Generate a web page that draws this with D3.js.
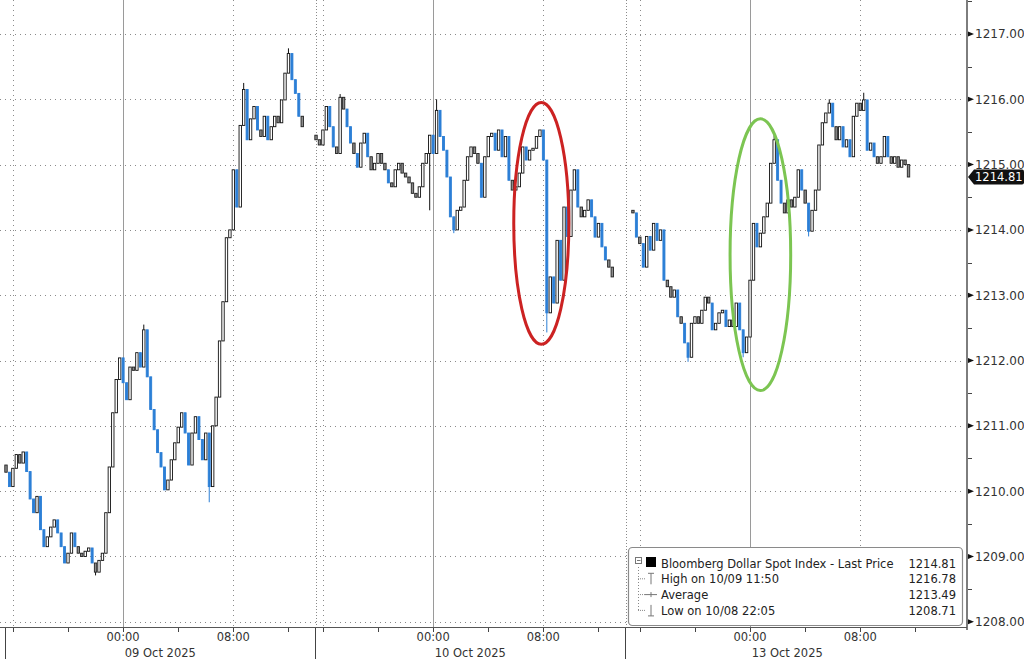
<!DOCTYPE html>
<html><head><meta charset="utf-8">
<script src="https://cdn.jsdelivr.net/npm/d3@7"></script>
<style>html,body{margin:0;padding:0;background:#fff;overflow:hidden} svg{display:block}</style>
</head><body>
<svg id="chart" width="1024" height="659"></svg>
<script>
// ---------------- DATA ----------------
const sessionDates = ["09 Oct 2025", "10 Oct 2025", "13 Oct 2025"];
// trading-hour position (continuous trading time, hours) of each session's first 15-min bar
const sessionStartHours = [0, 22.5, 45.5];
const sessionOpens = [1210.40, 1215.45, 1214.30];
const barHours = 0.25;
const closesS1 = [1210.29,1210.07,1210.35,1210.56,1210.43,1210.60,1210.30,1209.88,1209.67,1209.92,
 1209.41,1209.15,1209.30,1209.45,1209.56,1209.36,1209.15,1208.90,1209.05,1209.36,
 1209.15,1209.05,1209.00,1209.08,1209.13,1208.90,1208.76,1208.94,1209.05,1209.67,
 1210.37,1211.20,1211.71,1212.04,1211.66,1211.40,1211.90,1211.85,1212.12,1211.90,
 1212.47,1211.75,1211.25,1210.94,1210.59,1210.37,1210.02,1210.17,1210.48,1210.74,
 1210.98,1211.20,1210.89,1210.40,1210.89,1211.14,1210.79,1210.48,1210.89,1210.07,
 1211.00,1211.44,1212.30,1212.90,1213.88,1214.00,1214.92,1214.35,1215.60,1216.15,
 1215.38,1215.70,1215.89,1215.53,1215.43,1215.74,1215.38,1215.58,1215.74,1215.64,
 1215.99,1216.40,1216.70,1216.30,1216.09,1215.74,1215.58];
const closesS2 = [1215.38,1215.30,1215.53,1215.89,1215.58,1215.27,1215.17,1216.03,1215.85,1215.58,
 1215.33,1215.17,1214.96,1215.33,1215.48,1215.12,1214.92,1215.02,1215.17,1215.02,
 1214.92,1214.72,1214.66,1214.92,1215.02,1214.87,1214.81,1214.72,1214.56,1214.50,
 1214.66,1215.02,1215.17,1215.45,1215.17,1215.83,1215.43,1215.22,1214.81,1214.20,
 1214.00,1214.30,1214.35,1214.76,1215.12,1215.27,1215.17,1215.02,1214.50,1215.12,
 1215.43,1215.48,1215.22,1215.53,1215.12,1215.43,1214.76,1214.61,1214.66,1214.87,
 1215.27,1215.07,1215.22,1215.25,1215.43,1215.53,1215.07,1212.73,1213.28,1212.88,
 1213.84,1213.23,1214.35,1213.90,1214.61,1214.92,1214.35,1214.20,1214.30,1214.46,
 1214.20,1213.89,1214.10,1213.74,1213.54,1213.43,1213.28];
const closesS3 = [1214.26,1213.89,1213.79,1213.43,1213.90,1213.69,1214.10,1213.84,1214.00,1213.23,
 1213.13,1212.97,1213.08,1212.67,1212.57,1212.27,1212.05,1212.57,1212.67,1212.57,
 1212.77,1212.97,1212.88,1212.47,1212.57,1212.73,1212.77,1212.52,1212.62,1212.52,
 1212.88,1212.47,1212.12,1212.36,1213.23,1214.10,1213.74,1213.95,1214.20,1214.41,
 1215.02,1215.38,1214.76,1214.41,1214.26,1214.46,1214.35,1214.50,1214.92,1214.61,
 1214.41,1213.98,1214.30,1214.61,1215.30,1215.64,1215.79,1215.94,1215.58,1215.38,
 1215.58,1215.27,1215.38,1215.12,1215.74,1215.94,1215.83,1215.99,1215.22,1215.33,
 1215.12,1215.02,1215.12,1215.43,1215.12,1215.02,1215.12,1214.96,1215.07,1215.00,
 1214.81];
// notable wicks: [session, bar index, price]
const wickHighs = [[0,82,1216.78],[0,40,1212.55],[0,69,1216.25],[1,35,1216.00],[1,7,1216.08],[2,67,1216.10],[2,41,1215.45],[2,57,1216.0]];
const wickLows = [[0,26,1208.71],[0,59,1209.83],[1,67,1212.43],[1,33,1214.30],[1,40,1213.95],[2,16,1211.98],[2,32,1212.05],[2,51,1213.90]];

const yTicks = [1208,1209,1210,1211,1212,1213,1214,1215,1216,1217];
const yMinorTicks = [1208.5,1209.5,1210.5,1211.5,1212.5,1213.5,1214.5,1215.5,1216.5,1217.5];
const sessionBreakHours = [0, 22.5, 45];
const midnightHours = [8.5, 31, 54];
const morningHours = [16.5, 39, 62];
const afternoonHours = [0.5, 23, 46];
const minorTickHours = [0.5,4.5,8.5,12.5,16.5,20.5, 23,27,31,35,39,43, 46,50,54,58,62,66];
const legendLabels = ["Bloomberg Dollar Spot Index - Last Price", "High on 10/09 11:50", "Average", "Low on 10/08 22:05"];
const legendValues = ["1214.81", "1216.78", "1213.49", "1208.71"];
const lastPrice = 1214.81;
// highlight ellipses: centre hour, centre price, half-width (hours), half-height (price)
const ellipses = [
  {t: 38.85, p: 1214.10, dt: 2.0, dp: 1.85, color: "#cc2222"},
  {t: 54.75, p: 1213.62, dt: 2.2, dp: 2.08, color: "#7cc552"}
];

// ---------------- CHART ----------------
const svg = d3.select("#chart");
const FONT = "DejaVu Sans, sans-serif";
const x = d3.scaleLinear().domain([0, 69.6]).range([6, 965]);
const y = d3.scaleLinear().domain([1207.92, 1217.52]).range([627, 0]);

// build candles
const sessions = [closesS1, closesS2, closesS3];
const candles = [];
sessions.forEach((cl, s) => {
  cl.forEach((c, i) => {
    const o = i === 0 ? sessionOpens[s] : cl[i - 1];
    let hi = Math.max(o, c), lo = Math.min(o, c);
    wickHighs.forEach(w => { if (w[0] === s && w[1] === i) hi = Math.max(hi, w[2]); });
    wickLows.forEach(w => { if (w[0] === s && w[1] === i) lo = Math.min(lo, w[2]); });
    candles.push({t: sessionStartHours[s] + i * barHours, o, c, hi, lo});
  });
});
const kind = d => d.c >= d.o ? "up" : (d.o - d.c >= 0.2 ? "blue" : "gray");

const grid = svg.append("g");
grid.selectAll("line.h").data(yTicks).join("line")
  .attr("x1", 0).attr("x2", 965)
  .attr("y1", d => Math.round(y(d)) + 0.5).attr("y2", d => Math.round(y(d)) + 0.5)
  .attr("stroke", "#8a8a8a").attr("stroke-dasharray", "1,4");
grid.selectAll("line.v").data(afternoonHours.concat(morningHours)).join("line")
  .attr("x1", d => Math.round(x(d)) + 0.5).attr("x2", d => Math.round(x(d)) + 0.5)
  .attr("y1", 0).attr("y2", 627)
  .attr("stroke", "#8a8a8a").attr("stroke-dasharray", "1,4");
grid.selectAll("line.b").data(sessionBreakHours.slice(1)).join("line")
  .attr("x1", d => Math.round(x(d)) + 0.5).attr("x2", d => Math.round(x(d)) + 0.5)
  .attr("y1", 0).attr("y2", 627)
  .attr("stroke", "#8a8a8a").attr("stroke-dasharray", "1,2");
grid.selectAll("line.m").data(midnightHours).join("line")
  .attr("x1", d => Math.round(x(d)) + 0.5).attr("x2", d => Math.round(x(d)) + 0.5)
  .attr("y1", 0).attr("y2", 627)
  .attr("stroke", "#9a9a9a").attr("stroke-width", 1);

// candles
const cg = svg.append("g");
cg.selectAll("line.w").data(candles).join("line")
  .attr("x1", d => x(d.t)).attr("x2", d => x(d.t))
  .attr("y1", d => y(d.hi)).attr("y2", d => y(d.lo))
  .attr("stroke", d => kind(d) === "blue" ? "#2c7fd6" : "#111")
  .attr("stroke-width", 1);
cg.selectAll("rect").data(candles).join("rect")
  .attr("x", d => x(d.t) - (kind(d) === "blue" ? 1 : 1.2))
  .attr("width", d => kind(d) === "blue" ? 2 : 2.4)
  .attr("y", d => y(Math.max(d.o, d.c)))
  .attr("height", d => Math.max(1, y(Math.min(d.o, d.c)) - y(Math.max(d.o, d.c))))
  .attr("fill", d => ({up: "#fff", blue: "#2c7fd6", gray: "#8c8c8c"})[kind(d)])
  .attr("stroke", d => ({up: "#111", blue: "#2c7fd6", gray: "#222"})[kind(d)])
  .attr("stroke-width", 0.9);

// ellipses
svg.append("g").selectAll("ellipse").data(ellipses).join("ellipse")
  .attr("cx", d => x(d.t)).attr("cy", d => y(d.p))
  .attr("rx", d => x(d.t + d.dt) - x(d.t))
  .attr("ry", d => y(d.p - d.dp) - y(d.p))
  .attr("fill", "none").attr("stroke", d => d.color).attr("stroke-width", 3);

// right axis
const ra = svg.append("g");
ra.append("line").attr("x1", 967).attr("x2", 967).attr("y1", 0).attr("y2", 630)
  .attr("stroke", "#7d7d7d").attr("stroke-width", 2);
ra.selectAll("path.tri").data(yTicks).join("path")
  .attr("d", d => `M968,${y(d) - 2.5}L974,${y(d)}L968,${y(d) + 2.5}Z`)
  .attr("fill", "#111");
ra.selectAll("line.mn").data(yMinorTicks).join("line")
  .attr("x1", 968).attr("x2", 972).attr("y1", d => Math.round(y(d)) + 0.5).attr("y2", d => Math.round(y(d)) + 0.5)
  .attr("stroke", "#444");
ra.selectAll("text").data(yTicks).join("text")
  .attr("x", 975).attr("y", d => y(d) + 4.5)
  .attr("font-family", FONT).attr("font-size", 12).attr("fill", "#333")
  .text(d => d3.format(".2f")(d));
const ly = y(lastPrice);
ra.append("path")
  .attr("d", `M968,${ly}L974,${ly - 7.5}L1022,${ly - 7.5}Q1024,${ly - 7.5} 1024,${ly - 5.5}L1024,${ly + 5.5}Q1024,${ly + 7.5} 1022,${ly + 7.5}L974,${ly + 7.5}Z`)
  .attr("fill", "#111");
ra.append("text").attr("x", 975).attr("y", ly + 4.5)
  .attr("font-family", FONT).attr("font-size", 11.5).attr("fill", "#fff")
  .text(d3.format(".2f")(lastPrice));

// bottom axis
const ba = svg.append("g");
ba.append("line").attr("x1", 0).attr("x2", 967).attr("y1", 627.5).attr("y2", 627.5).attr("stroke", "#555");
ba.selectAll("line.t").data(minorTickHours).join("line")
  .attr("x1", d => Math.round(x(d)) + 0.5).attr("x2", d => Math.round(x(d)) + 0.5)
  .attr("y1", 628).attr("y2", 632).attr("stroke", "#444");
ba.selectAll("line.sb").data(sessionBreakHours).join("line")
  .attr("x1", d => Math.round(x(d)) - 0.5).attr("x2", d => Math.round(x(d)) - 0.5)
  .attr("y1", 628).attr("y2", 659).attr("stroke", "#444");
ba.selectAll("text.h0").data(midnightHours).join("text")
  .attr("x", d => x(d)).attr("y", 641).attr("text-anchor", "middle")
  .attr("font-family", FONT).attr("font-size", 11.5).attr("fill", "#333")
  .text("00:00");
ba.selectAll("text.h8").data(morningHours).join("text")
  .attr("x", d => x(d)).attr("y", 641).attr("text-anchor", "middle")
  .attr("font-family", FONT).attr("font-size", 11.5).attr("fill", "#333")
  .text("08:00");
ba.selectAll("text.dt").data(midnightHours).join("text")
  .attr("x", d => x(d + 2.7)).attr("y", 657).attr("text-anchor", "middle")
  .attr("font-family", FONT).attr("font-size", 11.5).attr("fill", "#333")
  .text((d, i) => sessionDates[i]);

// legend
const lg = svg.append("g");
lg.append("rect").attr("x", 628.5).attr("y", 547.5).attr("width", 334).attr("height", 78).attr("rx", 4)
  .attr("fill", "#fff").attr("stroke", "#8a8a8a").attr("stroke-width", 1.2);
const rowY = i => 567.5 + i * 15.8;
lg.append("line").attr("x1", 638.5).attr("x2", 638.5).attr("y1", 567).attr("y2", rowY(3) - 4)
  .attr("stroke", "#888").attr("stroke-dasharray", "1,2");
lg.selectAll("line.st").data([1, 2, 3]).join("line")
  .attr("x1", 638).attr("x2", 645).attr("y1", d => rowY(d) - 4.5).attr("y2", d => rowY(d) - 4.5)
  .attr("stroke", "#888").attr("stroke-dasharray", "1,1");
lg.append("rect").attr("x", 635.5).attr("y", 557.5).attr("width", 6).attr("height", 6).attr("fill", "#fff").attr("stroke", "#777");
lg.append("line").attr("x1", 637).attr("x2", 640.5).attr("y1", 560.5).attr("y2", 560.5).attr("stroke", "#777");
lg.append("rect").attr("x", 646).attr("y", 557).attr("width", 10).attr("height", 10).attr("fill", "#000");
lg.append("path").attr("d", `M648,${rowY(1) - 10}L654,${rowY(1) - 10}M651,${rowY(1) - 10}L651,${rowY(1) + 1}`)
  .attr("stroke", "#777").attr("fill", "none");
lg.append("path").attr("d", `M645,${rowY(2) - 4.5}L657,${rowY(2) - 4.5}M651,${rowY(2) - 7}L651,${rowY(2) - 2}`)
  .attr("stroke", "#777").attr("fill", "none");
lg.append("path").attr("d", `M651,${rowY(3) - 10}L651,${rowY(3) + 1}M648,${rowY(3) + 1}L654,${rowY(3) + 1}`)
  .attr("stroke", "#777").attr("fill", "none");
lg.selectAll("text.l").data(legendLabels).join("text")
  .attr("x", 661).attr("y", (d, i) => rowY(i))
  .attr("font-family", FONT).attr("font-size", 11.5).attr("fill", "#222")
  .text(d => d);
lg.selectAll("text.v").data(legendValues).join("text")
  .attr("x", 956).attr("y", (d, i) => rowY(i)).attr("text-anchor", "end")
  .attr("font-family", FONT).attr("font-size", 11.5).attr("fill", "#222")
  .text(d => d);
</script>
</body></html>
